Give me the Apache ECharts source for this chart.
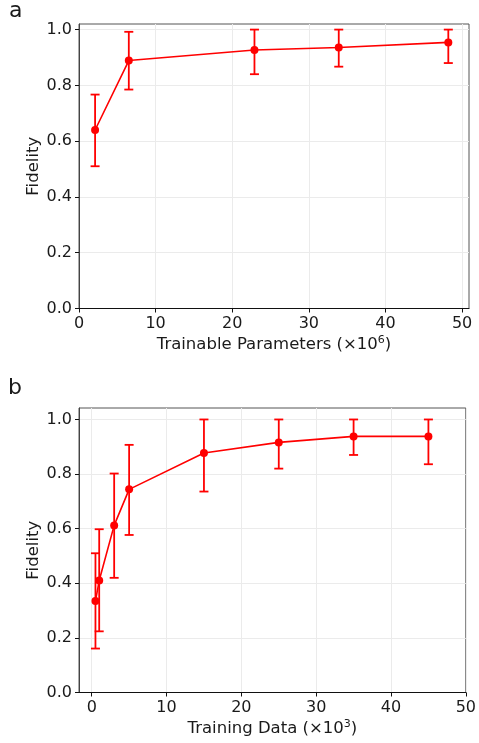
<!DOCTYPE html>
<html>
<head>
<meta charset="utf-8">
<script src="https://cdn.jsdelivr.net/npm/echarts@6/dist/echarts.min.js"></script>
<style>
  html, body { margin: 0; padding: 0; background: #fff; }
  #chart { width: 479px; height: 743px; }
</style>
</head>
<body>
<div id="chart"></div>
<script>
// panel a: fidelity vs trainable parameters (x 10^6)
const paramsX = [2.1, 6.5, 22.9, 33.9, 48.2];
const paramsFid = [0.64, 0.889, 0.927, 0.936, 0.954];
const paramsLow = [0.51, 0.785, 0.84, 0.867, 0.88];
const paramsHigh = [0.767, 0.992, 1.0, 1.0, 1.0];

// panel b: fidelity vs training data (x 10^3)
const dataX = [0.5, 1, 3, 5, 15, 25, 35, 45];
const dataFid = [0.335, 0.41, 0.612, 0.744, 0.877, 0.916, 0.938, 0.938];
const dataLow = [0.161, 0.224, 0.42, 0.577, 0.736, 0.82, 0.87, 0.836];
const dataHigh = [0.51, 0.598, 0.802, 0.907, 1.0, 1.0, 1.0, 1.0];

const xTicks = [0, 10, 20, 30, 40, 50];
const yTicks = [0, 0.2, 0.4, 0.6, 0.8, 1.0];

const font = 'DejaVu Sans';
const red = '#ff0000';
const ink = '#1a1a1a';

const errorSeries = (idx, xs, lows, highs) => ({
  type: 'custom',
  xAxisIndex: idx,
  yAxisIndex: idx,
  z: 3,
  data: xs.map((x, i) => [x, lows[i], highs[i]]),
  renderItem: (params, api) => {
    const lo = api.coord([api.value(0), api.value(1)]);
    const hi = api.coord([api.value(0), api.value(2)]);
    const w = 4.5;
    const style = { stroke: red, lineWidth: 1.8 };
    return {
      type: 'group',
      children: [
        { type: 'line', shape: { x1: lo[0], y1: lo[1], x2: hi[0], y2: hi[1] }, style },
        { type: 'line', shape: { x1: lo[0] - w, y1: lo[1], x2: lo[0] + w, y2: lo[1] }, style },
        { type: 'line', shape: { x1: hi[0] - w, y1: hi[1], x2: hi[0] + w, y2: hi[1] }, style },
      ],
    };
  },
});

const lineSeries = (idx, xs, ys) => ({
  type: 'line',
  xAxisIndex: idx,
  yAxisIndex: idx,
  z: 4,
  symbol: 'circle',
  symbolSize: 8,
  lineStyle: { color: red, width: 1.6 },
  itemStyle: { color: red },
  data: xs.map((x, i) => [x, ys[i]]),
});

const xAxis = (idx, min, max, name) => ({
  type: 'value',
  gridIndex: idx,
  min, max,
  name,
  nameLocation: 'middle',
  nameGap: 26,
  nameMoveOverlap: false,
  nameTextStyle: {
    fontFamily: font, fontSize: 16.5, color: ink,
    rich: { sup: { fontFamily: font, fontSize: 11, color: ink, padding: [0, 0, 9, 0] } },
  },
  axisLine: { onZero: false, lineStyle: { color: '#111', width: 1 } },
  axisTick: { show: true, length: 4, customValues: xTicks, lineStyle: { color: '#111' } },
  axisLabel: { customValues: xTicks, margin: 7, fontFamily: font, fontSize: 16, color: ink },
  splitLine: { show: true, lineStyle: { color: '#ebebeb', width: 1 } },
});

const yAxis = (idx, max) => ({
  type: 'value',
  gridIndex: idx,
  min: 0, max,
  name: 'Fidelity',
  nameLocation: 'middle',
  nameGap: 37,
  nameMoveOverlap: false,
  nameTextStyle: { fontFamily: font, fontSize: 16.5, color: ink },
  axisLine: { show: true, onZero: false, lineStyle: { color: '#444', width: 1 } },
  axisTick: { show: true, length: 4, customValues: yTicks, lineStyle: { color: '#111' } },
  axisLabel: {
    customValues: yTicks, margin: 7, fontFamily: font, fontSize: 16, color: ink,
    formatter: (v) => v.toFixed(1),
  },
  splitLine: { show: true, lineStyle: { color: '#ebebeb', width: 1 } },
});

const chart = echarts.init(document.getElementById('chart'), null, { renderer: 'canvas' });
chart.setOption({
  animation: false,
  backgroundColor: '#fff',
  grid: [
    { left: 79, top: 24, right: 10, height: 284.5, show: true, borderColor: '#555', borderWidth: 1 },
    { left: 79, top: 408, right: 10.5, height: 284.5, show: true, borderColor: '#555', borderWidth: 1 },
  ],
  xAxis: [
    xAxis(0, 0, 50.9, 'Trainable Parameters (×10{sup|6})'),
    xAxis(1, -1.7, 50, 'Training Data (×10{sup|3})'),
  ],
  yAxis: [yAxis(0, 1.02), yAxis(1, 1.042)],
  graphic: [
    { type: 'text', left: 9, top: 0, style: { text: 'a', fontFamily: font, fontSize: 22, fill: ink } },
    { type: 'text', left: 8, top: 377, style: { text: 'b', fontFamily: font, fontSize: 22, fill: ink } },
  ],
  series: [
    errorSeries(0, paramsX, paramsLow, paramsHigh),
    lineSeries(0, paramsX, paramsFid),
    errorSeries(1, dataX, dataLow, dataHigh),
    lineSeries(1, dataX, dataFid),
  ],
});
</script>
</body>
</html>
